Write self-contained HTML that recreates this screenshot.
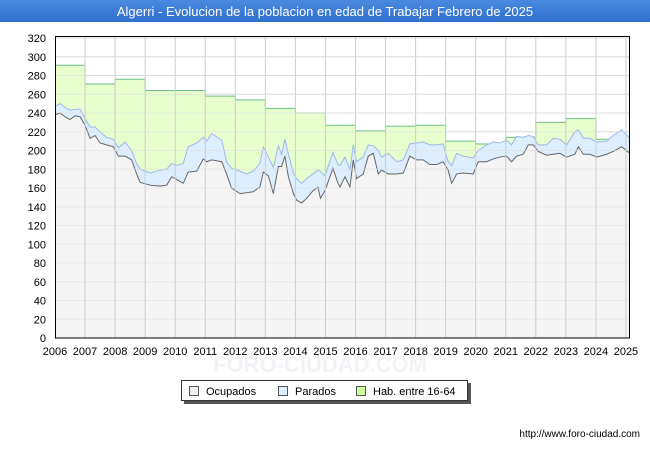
<!DOCTYPE html>
<html><head><meta charset="utf-8">
<style>
body{margin:0;background:#fff;font-family:"Liberation Sans","DejaVu Sans",sans-serif;}
#wrap{position:relative;width:650px;height:450px;overflow:hidden;background:#fff;}
</style></head>
<body>
<div id="wrap">
<svg id="svg" width="650" height="450" xmlns="http://www.w3.org/2000/svg">
  <defs>
    <linearGradient id="tb" x1="0" y1="0" x2="0" y2="1">
      <stop offset="0" stop-color="#4a8ae0"/><stop offset="1" stop-color="#2f6fcf"/>
    </linearGradient>
  </defs>
  <rect x="0" y="0" width="650" height="22" fill="url(#tb)"/>
  <text x="325" y="16" text-anchor="middle" font-size="13" fill="#fff">Algerri - Evolucion de la poblacion en edad de Trabajar Febrero de 2025</text>
  <g id="grid"></g>
  <g id="series"></g>
  <rect x="55.5" y="36.5" width="574" height="301.5" fill="none" stroke="#000" stroke-width="1"/>
  <g id="axes"></g>
  <text x="320" y="372" text-anchor="middle" font-size="22" fill="#f2f3f6" font-weight="bold">FORO-CIUDAD.COM</text>
  <g>
    <rect x="184" y="383" width="287" height="21" fill="#555"/>
    <rect x="181.5" y="380.5" width="286" height="20" fill="#fff" stroke="#333"/>
    <rect x="189.5" y="386.5" width="9" height="9" fill="#eeeeee" stroke="#555"/>
    <text x="206" y="395" font-size="11" fill="#000">Ocupados</text>
    <rect x="278.5" y="386.5" width="9" height="9" fill="#ddeeff" stroke="#555"/>
    <text x="295" y="395" font-size="11" fill="#000">Parados</text>
    <rect x="356.5" y="386.5" width="9" height="9" fill="#ccff99" stroke="#555"/>
    <text x="373" y="395" font-size="11" fill="#000">Hab. entre 16-64</text>
  </g>
  <text x="640" y="437" text-anchor="end" font-size="10" fill="#000">http://www.foro-ciudad.com</text>
</svg>
</div>
<script>
const months = [0,2,4,6,8,10,12,14,16,18,20.6,23.3,25.3,28,30.6,32.6,34,38,42,44.6,46.6,48.6,51.2,53.2,56.6,59.2,60.6,62.6,66.6,68.5,70.5,73.9,76.5,79.2,81.8,83.2,85.2,87.2,89.2,90.5,91.8,93.2,95.2,96.5,98.5,100.5,103,105,106,107.8,111,113,113.8,115.8,117.8,119.1,120.4,123.1,125.1,127.1,129.1,130.4,133.1,136.4,139.1,141.7,144.4,147,149.7,152.4,155,157,158.4,160.4,163,167,169,172.4,175,177.7,180.3,182.3,184.3,187,189,191,193,196.3,199,201.6,204.3,207.6,209,211,213.6,216.3,220.3,222.9,226.3,229.6];
const ocupados = [238,240,236,233,237,236,227,213,216,208,206,204,194,194,190,175,166,163,162,163,172,169,165,177,178,191,188,190,188,175,160,154,155,156,161,177,173,154,183,183,194,172,154,147,144,149,157,161,149,157,181,165,161,172,161,190,170,175,194,197,175,179,175,175,176,194,190,190,185,185,188,179,165,175,176,175,188,188,191,193,194,188,194,196,206,206,199,195,196,197,193,196,204,196,196,193,196,199,204,197];
const parados = [247,250,246,243,244,244,234,225,225,220,214,212,203,209,200,186,180,176,179,180,186,184,186,204,208,214,210,218,211,188,181,178,175,178,186,204,193,182,205,196,212,196,176,170,165,170,175,179,178,173,198,185,184,193,179,206,188,193,206,205,200,193,197,188,190,207,208,209,206,206,207,188,184,197,194,192,200,206,209,208,211,206,215,214,216,215,206,206,213,212,206,220,222,213,213,209,210,216,222,213];
const habYears = [2006,2007,2008,2009,2010,2011,2012,2013,2014,2015,2016,2017,2018,2019,2020,2021,2022,2023,2024];
const habValues = [291,271,276,264,264,258,254,245,240,227,221,226,227,210,207,214,230,234,212];
const yTicks = [0,20,40,60,80,100,120,140,160,180,200,220,240,260,280,300,320];
const xTickYears = [2006,2007,2008,2009,2010,2011,2012,2013,2014,2015,2016,2017,2018,2019,2020,2021,2022,2023,2024,2025];

const NS = "http://www.w3.org/2000/svg";
const X0 = 55, PXY = 30.05, Y0 = 338, PXV = 300/320, ENDM = 229.6;
function xm(m){ return X0 + m/12*PXY; }
function xy(yr){ return X0 + (yr-2006)*PXY; }
function yv(v){ return Y0 - v*PXV; }
function mk(tag, attrs, parent){ const e=document.createElementNS(NS,tag); for(const k in attrs) e.setAttribute(k,attrs[k]); parent.appendChild(e); return e; }

const grid = document.getElementById('grid');
const axes = document.getElementById('axes');
const series = document.getElementById('series');
mk('rect',{x:55,y:36,width:575,height:302,fill:'#fff'},grid);
yTicks.forEach(t=>{
  const l = mk('line',{x1:55,x2:630,y1:yv(t),y2:yv(t),stroke:'#dddddd','stroke-width':1},grid);
  
  
  const tx = mk('text',{x:46,y:yv(t)+4,'text-anchor':'end','font-size':11,fill:'#000'},axes);
  tx.textContent = t;
  
  
});

let hp = 'M'+xm(0)+','+Y0;
let hl = '';
habYears.forEach((yr,i)=>{
  const x1 = xy(yr), x2 = i<habYears.length-1 ? xy(habYears[i+1]) : xm(ENDM);
  hp += ' L'+x1+','+yv(habValues[i])+' L'+x2+','+yv(habValues[i]);
  hl += (i?' L':'M')+x1+','+yv(habValues[i])+' L'+x2+','+yv(habValues[i]);
});
hp += ' L'+xm(ENDM)+','+Y0+' Z';
const hf = mk('path',{d:hp,fill:'#e6ffcc',stroke:'none'},series);



function areaPath(vals){
  let d='M'+xm(months[0])+','+Y0;
  months.forEach((m,i)=>{ d+=' L'+xm(m).toFixed(2)+','+yv(vals[i]).toFixed(2); });
  d+=' L'+xm(months[months.length-1])+','+Y0+' Z';
  return d;
}
function linePath(vals){
  return months.map((m,i)=>(i?'L':'M')+xm(m).toFixed(2)+','+yv(vals[i]).toFixed(2)).join(' ');
}
const hline = mk('path',{d:hl,fill:'none',stroke:'#6fbf8a','stroke-width':1},series);


const pf = mk('path',{d:areaPath(parados),fill:'#ddeeff'},series);


const pl = mk('path',{d:linePath(parados),fill:'none',stroke:'#99b8ee','stroke-width':1},series);


const of = mk('path',{d:areaPath(ocupados),fill:'#f4f4f4'},series);


const ol = mk('path',{d:linePath(ocupados),fill:'none',stroke:'#666','stroke-width':1},series);



xTickYears.forEach(yr=>{
  if(yr>2006){
    const l = mk('line',{x1:xy(yr),x2:xy(yr),y1:36,y2:338,stroke:'#cccccc','stroke-width':1},series);
    
    
  }
  const t = mk('text',{x:xy(yr),y:355,'text-anchor':'middle','font-size':11,fill:'#000'},axes);
  t.textContent = yr;
  
  
});
yTicks.forEach(t=>{
  const l = mk('line',{x1:55,x2:630,y1:yv(t),y2:yv(t),stroke:'#dddddd','stroke-width':1,'stroke-opacity':0.6},series);
  
  
});
</script>
</body></html>
